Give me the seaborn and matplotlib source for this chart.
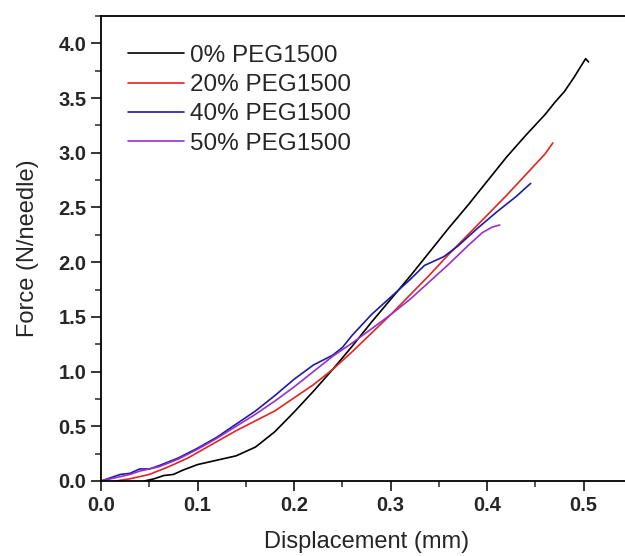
import numpy as np
import pandas as pd
import seaborn as sns
import matplotlib.pyplot as plt
from matplotlib.ticker import MultipleLocator, FormatStrFormatter

# Data
x0 = [0.045, 0.055, 0.065, 0.075, 0.085, 0.10, 0.12, 0.14, 0.16, 0.18, 0.20, 0.22, 0.24,
      0.26, 0.28, 0.30, 0.32, 0.34, 0.36, 0.38, 0.40, 0.42, 0.44, 0.46, 0.47, 0.48, 0.49,
      0.497, 0.502, 0.505]
y0 = [0.0, 0.02, 0.05, 0.06, 0.10, 0.15, 0.19, 0.23, 0.31, 0.45, 0.63, 0.82, 1.02,
      1.23, 1.45, 1.66, 1.87, 2.09, 2.31, 2.52, 2.74, 2.96, 3.16, 3.35, 3.46, 3.56, 3.69,
      3.79, 3.86, 3.83]

x20 = [0.015, 0.03, 0.05, 0.07, 0.09, 0.10, 0.12, 0.14, 0.16, 0.18, 0.20, 0.22, 0.24,
       0.26, 0.28, 0.30, 0.32, 0.34, 0.36, 0.38, 0.40, 0.42, 0.44, 0.46, 0.468]
y20 = [0.0, 0.02, 0.06, 0.13, 0.21, 0.26, 0.36, 0.46, 0.55, 0.64, 0.76, 0.88, 1.02,
       1.18, 1.35, 1.52, 1.70, 1.88, 2.07, 2.25, 2.43, 2.61, 2.80, 2.99, 3.09]

x40 = [0.0, 0.01, 0.02, 0.03, 0.04, 0.05, 0.06, 0.08, 0.10, 0.12, 0.14, 0.16, 0.18, 0.20,
       0.22, 0.24, 0.25, 0.26, 0.28, 0.30, 0.32, 0.335, 0.345, 0.355, 0.37, 0.39, 0.41,
       0.43, 0.445]
y40 = [0.0, 0.03, 0.06, 0.07, 0.11, 0.11, 0.14, 0.21, 0.30, 0.40, 0.52, 0.64, 0.78, 0.93,
       1.06, 1.15, 1.22, 1.33, 1.52, 1.68, 1.84, 1.97, 2.01, 2.05, 2.15, 2.31, 2.46,
       2.60, 2.72]

x50 = [0.0, 0.01, 0.02, 0.03, 0.04, 0.06, 0.08, 0.10, 0.12, 0.14, 0.16, 0.18, 0.20, 0.22,
       0.24, 0.26, 0.28, 0.30, 0.32, 0.34, 0.36, 0.38, 0.395, 0.405, 0.413]
y50 = [0.0, 0.02, 0.04, 0.06, 0.09, 0.13, 0.20, 0.29, 0.39, 0.50, 0.61, 0.73, 0.86, 1.0,
       1.14, 1.26, 1.39, 1.52, 1.66, 1.82, 1.98, 2.15, 2.27, 2.32, 2.34]

labels = ["0% PEG1500", "20% PEG1500", "40% PEG1500", "50% PEG1500"]
colors = ["#000000", "#e3241f", "#1c1ca8", "#9a30c8"]

df = pd.concat([
    pd.DataFrame({"x": x, "y": y, "sample": lab})
    for x, y, lab in zip([x0, x20, x40, x50], [y0, y20, y40, y50], labels)
])

# Settings
sns.set_theme(style="ticks")
plt.rcParams['font.family'] = ['Liberation Sans', 'DejaVu Sans']

fig = plt.figure(figsize=(6.25, 5.56), dpi=100)
ax = fig.add_axes([0.1616, 0.1349, 0.8496, 0.8363])

sns.lineplot(data=df, x="x", y="y", hue="sample", palette=dict(zip(labels, colors)),
             estimator=None, sort=False, linewidth=1.2, ax=ax)

ax.set_xlim(0, 0.55)
ax.set_ylim(0, 4.25)
ax.xaxis.set_major_locator(MultipleLocator(0.1))
ax.xaxis.set_minor_locator(MultipleLocator(0.05))
ax.yaxis.set_major_locator(MultipleLocator(0.5))
ax.yaxis.set_minor_locator(MultipleLocator(0.25))
ax.xaxis.set_major_formatter(FormatStrFormatter('%.1f'))
ax.yaxis.set_major_formatter(FormatStrFormatter('%.1f'))

for s in ax.spines.values():
    s.set_linewidth(1.3)
    s.set_color('black')
ax.tick_params(which='major', direction='out', length=7, width=1.3, labelsize=14.5)
ax.tick_params(which='minor', direction='out', length=4, width=1.1)
for t in ax.get_xticklabels() + ax.get_yticklabels():
    t.set_fontweight('bold')

ax.set_xlabel("Displacement (mm)", fontsize=17, labelpad=12)
ax.set_ylabel("Force (N/needle)", fontsize=17, labelpad=14)

ax.legend(frameon=False, loc='upper left', bbox_to_anchor=(0.01, 0.985), fontsize=17.5,
          handlelength=2.3, handletextpad=0.25, labelspacing=0.3)

plt.savefig("out.png", dpi=100)
